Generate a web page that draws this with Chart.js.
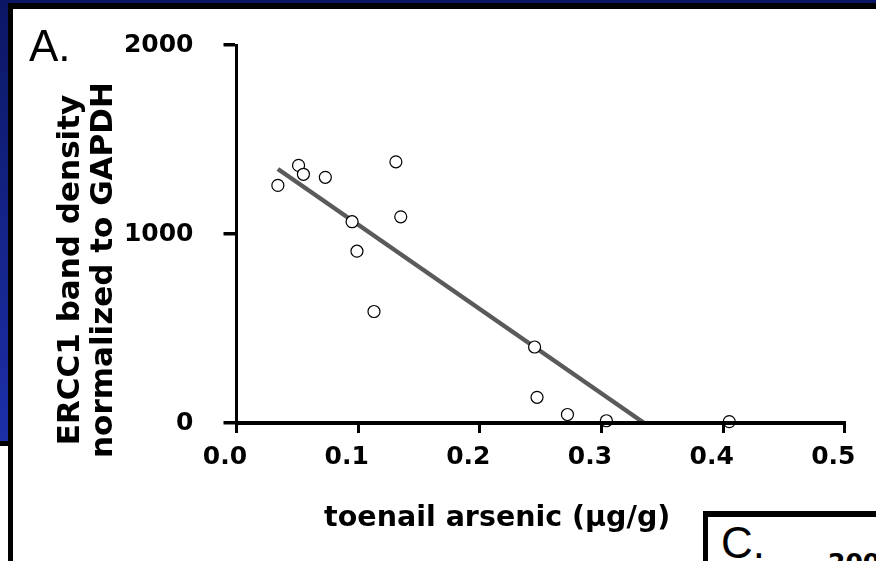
<!DOCTYPE html>
<html>
<head>
<meta charset="utf-8">
<script src="https://cdn.jsdelivr.net/npm/chart.js@4.4.1/dist/chart.umd.min.js"></script>
<style>
  html, body { margin: 0; padding: 0; width: 876px; height: 561px; overflow: hidden; background: #fff; }
  #wrap { position: relative; width: 876px; height: 561px; overflow: hidden; background: #fff; }
  .abs { position: absolute; }
  #topStrip { left: 0; top: 0; width: 876px; height: 3px; background: #0b1764; }
  #leftStrip { left: 0; top: 0; width: 8px; height: 441px; background: linear-gradient(#0b1764, #1c2fa9); }
  #leftStripBorder { left: 0; top: 441px; width: 8px; height: 5px; background: #000; }
  #frameTop { left: 7.5px; top: 2.7px; width: 870px; height: 6.3px; background: #000; }
  #frameLeft { left: 7.5px; top: 2.7px; width: 5.8px; height: 560px; background: #000; }
  #chartCanvas { position: absolute; left: 0; top: 0; z-index: 2; }
  #panelC { left: 702.5px; top: 511px; width: 220px; height: 100px; border-left: 5.5px solid #000; border-top: 6px solid #000; background: #fff; z-index: 3; overflow: hidden; }
  .lbl { font-family: 'Liberation Sans', Arial, Helvetica, sans-serif; color: #000; white-space: nowrap; z-index: 3; }
  #labA { left: 29px; top: 23.8px; font-size: 44px; line-height: 44px; }
  #labC { left: 721px; top: 520.8px; font-size: 44px; line-height: 44px; }
  #labC2000 { left: 828px; top: 550px; font-family: 'DejaVu Sans', sans-serif; font-size: 25px; line-height: 25px; font-weight: bold; }
</style>
</head>
<body>
<div id="wrap">
  <div class="abs" id="topStrip"></div>
  <div class="abs" id="leftStrip"></div>
  <div class="abs" id="leftStripBorder"></div>
  <div class="abs" id="frameTop"></div>
  <div class="abs" id="frameLeft"></div>
  <canvas id="chartCanvas" width="876" height="561"></canvas>
  <div class="abs" id="panelC"></div>
  <div class="abs lbl" id="labA">A.</div>
  <div class="abs lbl" id="labC">C.</div>
  <div class="abs lbl" id="labC2000">2000</div>
</div>
<script>
// ---- data ----
const arsenic = [0.034, 0.051, 0.055, 0.073, 0.131, 0.095, 0.135, 0.099, 0.113, 0.245, 0.247, 0.272, 0.304, 0.405];
const ercc1   = [1257, 1363, 1316, 1300, 1382, 1065, 1091, 909, 590, 402, 136, 45, 12, 7];
const fitX = [0.034, 0.335];
const fitY = [1344, 0];
const xTickLabels = ['0.0', '0.1', '0.2', '0.3', '0.4', '0.5'];
const yTickLabels = ['0', '1000', '2000'];
const xTitle = 'toenail arsenic (µg/g)';
const yTitle = ['ERCC1 band density', 'normalized to GAPDH'];

const FAMILY = "'DejaVu Sans', 'Liberation Sans', Arial, sans-serif";

const points = arsenic.map((x, i) => ({ x: x, y: ercc1[i] }));
const fitLine = fitX.map((x, i) => ({ x: x, y: fitY[i] }));

const tickFont = { family: FAMILY, size: 25, weight: 'bold', lineHeight: 1.2 };

new Chart(document.getElementById('chartCanvas'), {
  type: 'scatter',
  data: {
    datasets: [
      {
        label: 'samples',
        data: points,
        xAxisID: 'x', yAxisID: 'y',
        pointRadius: 6,
        pointBorderWidth: 1.2,
        pointBorderColor: '#000',
        pointBackgroundColor: '#fff',
        clip: false
      },
      {
        label: 'fit',
        data: fitLine,
        xAxisID: 'x', yAxisID: 'y',
        showLine: true,
        borderColor: '#5a5a5a',
        borderWidth: 4.5,
        pointRadius: 0,
        fill: false,
        clip: false
      }
    ]
  },
  options: {
    responsive: false,
    animation: false,
    events: [],
    layout: { padding: { left: 54.6, right: 30.5, top: 0, bottom: 21 } },
    plugins: { legend: { display: false }, tooltip: { enabled: false }, title: { display: false } },
    scales: {
      x: {
        type: 'linear', axis: 'x', position: 'bottom', min: 0, max: 0.5, weight: 0,
        afterFit: (s) => { s.height = 60; },
        grid: { display: true, drawOnChartArea: false, drawTicks: true, tickLength: 10, color: '#000', lineWidth: 3, z: 1 },
        border: { display: true, color: '#000', width: 4, z: 1 },
        ticks: {
          stepSize: 0.1, autoSkip: false, maxRotation: 0, minRotation: 0,
          padding: 9, labelOffset: -11.5, color: '#000', font: tickFont,
          callback: (v, i) => xTickLabels[i]
        },
        title: { display: false }
      },
      xT1: {
        type: 'linear', axis: 'x', position: 'bottom', weight: 1, stack: 'xt', stackWeight: 6,
        afterFit: (s) => { s.height = 57; },
        grid: { display: false }, border: { display: false }, ticks: { display: false },
        title: {
          display: true, text: xTitle, color: '#000',
          font: { family: FAMILY, size: 28.5, weight: 'bold', lineHeight: 1.2 },
          padding: { top: 0, bottom: 4.8 }
        }
      },
      xT2: {
        type: 'linear', axis: 'x', position: 'bottom', weight: 1, stack: 'xt', stackWeight: 1,
        afterFit: (s) => { s.height = 57; },
        grid: { display: false }, border: { display: false }, ticks: { display: false },
        title: { display: false }
      },
      xTop: {
        type: 'linear', axis: 'x', position: 'top',
        afterFit: (s) => { s.height = 40; },
        grid: { display: false }, border: { display: false }, ticks: { display: false },
        title: { display: false }
      },
      y: {
        type: 'linear', axis: 'y', position: 'left', min: 0, max: 2000, weight: 0,
        afterFit: (s) => { s.width = 111.9; },
        grid: { display: true, drawOnChartArea: false, drawTicks: true, tickLength: 13, color: '#000', lineWidth: 3.5, z: 1 },
        border: { display: true, color: '#000', width: 3, z: 1 },
        ticks: {
          stepSize: 1000, autoSkip: false, padding: 30, color: '#000', font: tickFont,
          callback: (v, i) => yTickLabels[i]
        },
        title: { display: false }
      },
      yT: {
        type: 'linear', axis: 'y', position: 'left', fullSize: true, weight: 10,
        afterFit: (s) => { s.width = 70; },
        grid: { display: false }, border: { display: false }, ticks: { display: false },
        title: {
          display: true, text: yTitle, color: '#000',
          font: { family: FAMILY, size: 31, weight: 'bold', lineHeight: 33 / 31 },
          padding: { top: 0, bottom: 0 }
        }
      }
    }
  }
});
</script>
</body>
</html>
